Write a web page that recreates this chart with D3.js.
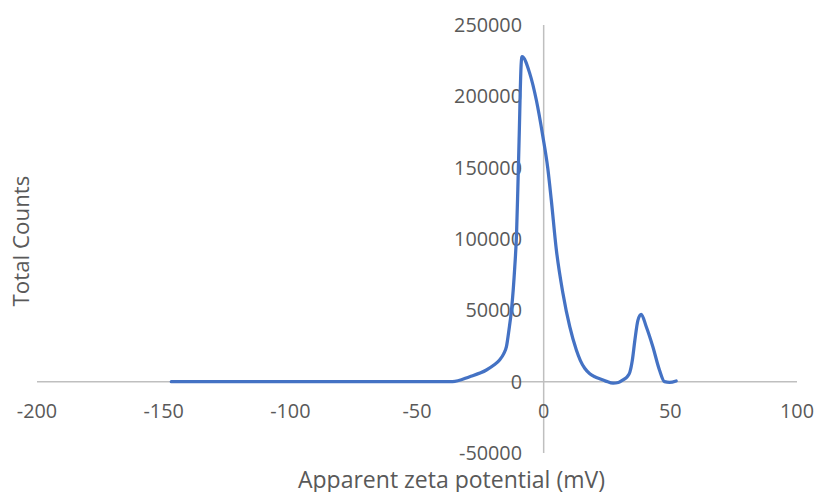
<!DOCTYPE html>
<html>
<head>
<meta charset="utf-8">
<script src="https://cdn.jsdelivr.net/npm/d3@7"></script>
<style>
  html, body { margin: 0; padding: 0; background: #fff; }
  svg { display: block; }
</style>
</head>
<body>
<svg id="chart" width="816" height="492"></svg>
<script>
// ---- Data ----
const zetaValues = [-147, -100, -36, -29.2, -22.6, -19.5, -17.4, -15.8, -14.7, -13.7, -12.7, -11.4, -10.7, -10.2, -9.7, -8.9, -8.56,
  -5.5, -2.9, -0.3, 1.6, 3.0, 5.0, 7.6, 10.3, 12.9, 14.5, 16.2, 18.2, 20.2, 22.1, 24.5, 27.4, 29.5, 31.3, 33, 34, 35, 36, 37.2, 38.5,
  40.5, 43.1, 45.7, 47.7, 49.7, 52.3];
const countValues = [0, 0, 0, 3500, 8200, 11800, 15200, 19500, 24500, 36200, 50300, 80600, 104000, 135000, 169400, 222000, 227800,
  216100, 197400, 171700, 149900, 127500, 92500, 62000, 38500, 22200, 14800, 9400, 5600, 3400, 2000, 400, -1100, -600, 1200, 3500, 6500, 15000, 29000, 43000, 47200,
  38500, 24500, 8200, 0, -500, 500];
const xTicks = [-200, -150, -100, -50, 0, 50, 100];
const yTicks = [-50000, 0, 50000, 100000, 150000, 200000, 250000];
const xTitle = "Apparent zeta potential (mV)";
const yTitle = "Total Counts";

// ---- Layout ----
const svg = d3.select("#chart");
const x = d3.scaleLinear().domain([-200, 100]).range([37, 797]);
const y = d3.scaleLinear().domain([-50000, 250000]).range([453, 25]);

const textColor = "#595959";
const axisColor = "#BFBFBF";
const fontFam = "'Open Sans', 'Liberation Sans', sans-serif";

function fitFont(sel, targetWidth, base) {
  sel.attr("font-size", base);
  const w = sel.node().getComputedTextLength();
  sel.attr("font-size", base * targetWidth / w);
}

// axis lines
svg.append("line")
  .attr("x1", x(-200)).attr("x2", x(100))
  .attr("y1", y(0)).attr("y2", y(0))
  .attr("stroke", axisColor).attr("stroke-width", 1.5);
svg.append("line")
  .attr("x1", x(0)).attr("x2", x(0))
  .attr("y1", y(250000)).attr("y2", y(-50000))
  .attr("stroke", axisColor).attr("stroke-width", 1.5);

// measure tick font size
const probe = svg.append("text").attr("font-family", fontFam).text("250000");
fitFont(probe, 68, 20);
const tickSize = +probe.attr("font-size");
probe.remove();

// x tick labels
svg.append("g").selectAll("text").data(xTicks).join("text")
  .attr("x", d => x(d))
  .attr("y", 418)
  .attr("text-anchor", "middle")
  .attr("font-family", fontFam)
  .attr("font-size", tickSize)
  .attr("fill", textColor)
  .text(d => String(d));

// y tick labels
svg.append("g").selectAll("text").data(yTicks).join("text")
  .attr("x", 522)
  .attr("y", d => y(d))
  .attr("dy", "0.36em")
  .attr("text-anchor", "end")
  .attr("font-family", fontFam)
  .attr("font-size", tickSize)
  .attr("fill", textColor)
  .text(d => String(d));

// line
const line = d3.line()
  .x((d, i) => x(zetaValues[i]))
  .y((d, i) => y(countValues[i]))
  .curve(d3.curveMonotoneX);
svg.append("path")
  .datum(zetaValues)
  .attr("d", line)
  .attr("fill", "none")
  .attr("stroke", "#4472C4")
  .attr("stroke-width", 3.25)
  .attr("stroke-linecap", "round")
  .attr("stroke-linejoin", "round");

// axis titles
const xt = svg.append("text")
  .attr("x", 451.5)
  .attr("y", 488)
  .attr("text-anchor", "middle")
  .attr("font-family", fontFam)
  .attr("fill", textColor)
  .text(xTitle);
fitFont(xt, 307, 20);

const yt = svg.append("text")
  .attr("transform", "translate(29,241) rotate(-90)")
  .attr("text-anchor", "middle")
  .attr("font-family", fontFam)
  .attr("fill", textColor)
  .text(yTitle);
fitFont(yt, 131, 20);
</script>
</body>
</html>
